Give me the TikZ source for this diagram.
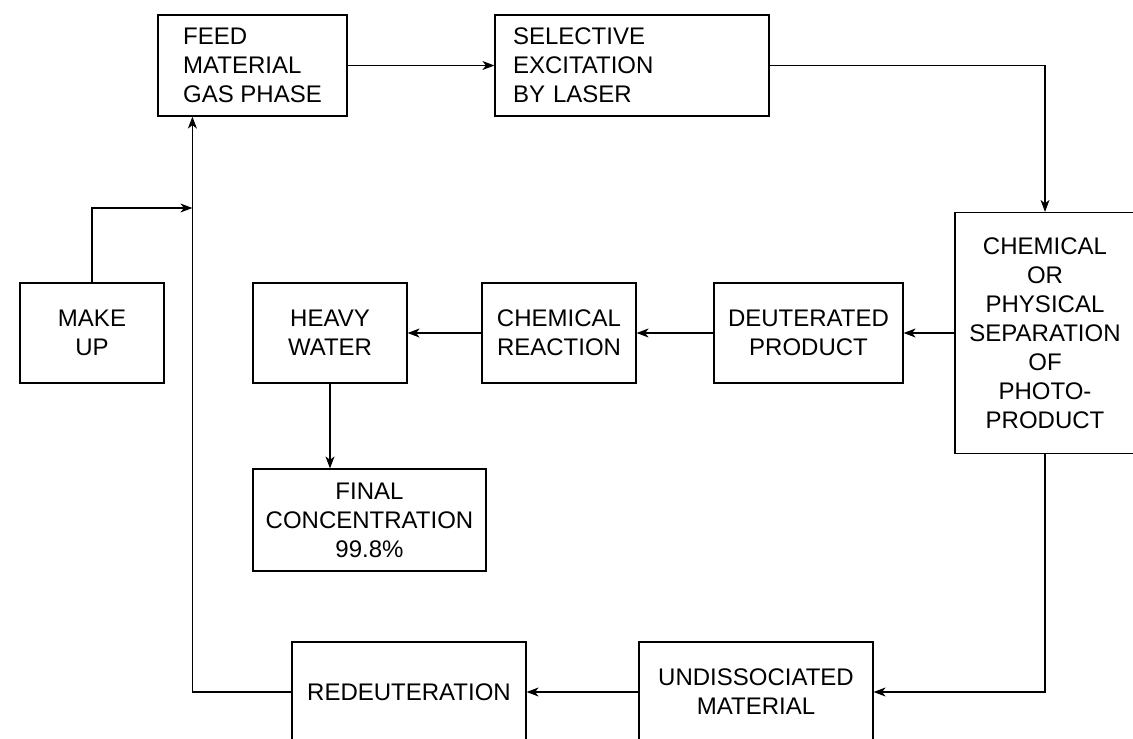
\documentclass[tikz,border=0pt]{standalone}
\usepackage{fontspec}
\setmainfont{Liberation Sans}
\usetikzlibrary{arrows.meta}

\begin{document}
\begin{tikzpicture}[x=1pt,y=-1pt,
  box/.style={draw, line width=1.2pt, rectangle, inner sep=0pt, align=center,
    minimum height=100pt, font=\fontsize{24}{29}\selectfont},
  flow/.style={line width=1.1pt, -{Stealth[length=12pt,width=9pt,inset=3.5pt]}},
  link/.style={line width=1.1pt}]
  \clip (0,0) rectangle (1133,739);

  % Boxes
  \node[box, minimum width=189pt, minimum height=101pt, align=left] (feed) at (252.5,65.5) {FEED\\MATERIAL\\GAS PHASE};
  \node[box, minimum height=101pt, text width=238pt, inner xsep=18pt, align=left] (excite) at (632,65.5) {SELECTIVE\\EXCITATION\\BY LASER};
  \node[box, minimum width=180pt, minimum height=241pt] (separ) at (1045,333) {CHEMICAL\\OR\\PHYSICAL\\SEPARATION\\OF\\PHOTO-\\PRODUCT};
  \node[box, minimum width=144pt] (makeup) at (92,333) {MAKE\\UP};
  \node[box, minimum width=154pt] (heavy) at (330,333) {HEAVY\\WATER};
  \node[box, minimum width=154pt] (react) at (559,333) {CHEMICAL\\REACTION};
  \node[box, minimum width=189pt] (deut) at (808.5,333) {DEUTERATED\\PRODUCT};
  \node[box, minimum width=233pt, minimum height=102pt] (final) at (369.5,520) {FINAL\\CONCENTRATION\\99.8\%};
  \node[box, minimum width=234pt] (redeut) at (409,692) {REDEUTERATION};
  \node[box, minimum width=234pt] (undiss) at (756,692) {UNDISSOCIATED\\MATERIAL};

  % Coordinates
  \coordinate (feedin) at ([xshift=35pt]feed.south west);
  \coordinate (merge) at (feedin |- 0,208);

  % Arrows
  \draw[flow] (feed.east) -- (excite.west);
  \draw[flow] (excite.east) -| (separ.north);
  \draw[flow] (separ.west) -- (deut.east);
  \draw[flow] (deut.west) -- (react.east);
  \draw[flow] (react.west) -- (heavy.east);
  \draw[flow] (heavy.south) -- (heavy.south |- final.north);
  \draw[flow] (separ.south) |- (undiss.east);
  \draw[flow] (undiss.west) -- (redeut.east);
  \draw[flow] (redeut.west) -| (feedin);
  \draw[flow] (makeup.north) |- (merge);
\end{tikzpicture}
\end{document}
